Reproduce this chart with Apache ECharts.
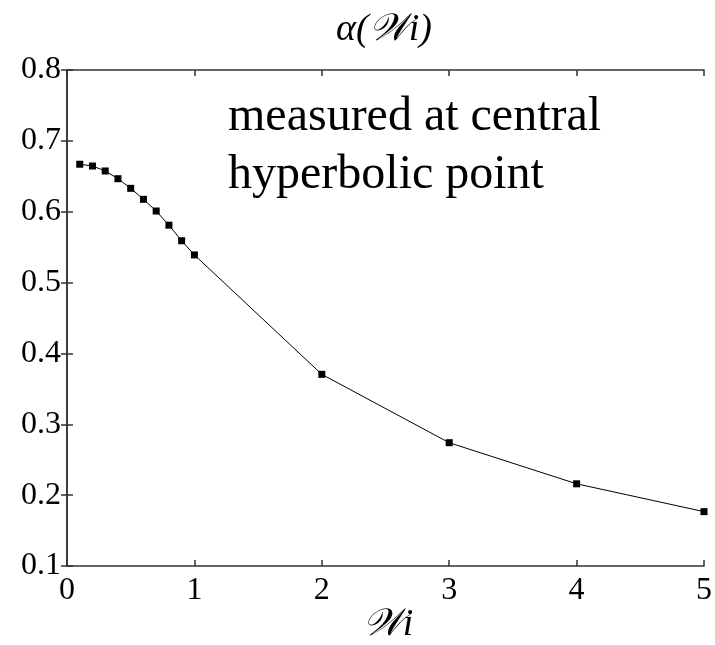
<!DOCTYPE html>
<html>
<head>
<meta charset="utf-8">
<script src="https://cdn.jsdelivr.net/npm/echarts@6/dist/echarts.min.js"></script>
<style>
html,body{margin:0;padding:0;background:#fff;}
#c{width:715px;height:645px;}
</style>
</head>
<body>
<div id="c"></div>
<script>
const xValues = [0.1, 0.2, 0.3, 0.4, 0.5, 0.6, 0.7, 0.8, 0.9, 1.0, 2, 3, 4, 5];
const alphaValues = [0.667, 0.6645, 0.6575, 0.6466, 0.633, 0.6175, 0.601, 0.581, 0.559, 0.539, 0.3705, 0.274, 0.216, 0.1767];
const titleText = 'α(𝒲i)';
const xAxisName = '𝒲i';
const noteLines = ['measured at central', 'hyperbolic point'];

const chart = echarts.init(document.getElementById('c'), null, {renderer: 'canvas'});
const serif = '"Liberation Serif", "DejaVu Serif", serif';
const axisColor = '#333';
const labelStyle = {color: '#000', fontFamily: serif, fontSize: 32};

chart.setOption({
  animation: false,
  backgroundColor: '#fff',
  grid: {left: 67, right: 7, top: 70, bottom: 79, containLabel: false},
  xAxis: [
    {type: 'value', min: 0, max: 5, interval: 1, position: 'bottom',
     axisLine: {show: true, lineStyle: {color: axisColor, width: 1.5}},
     axisTick: {show: true, inside: true, length: 6, lineStyle: {color: axisColor, width: 1.5}},
     axisLabel: Object.assign({margin: 9}, labelStyle),
     splitLine: {show: false}},
    {type: 'value', min: 0, max: 5, interval: 1, position: 'top',
     axisLine: {show: true, lineStyle: {color: axisColor, width: 1.5}},
     axisTick: {show: true, inside: true, length: 6, lineStyle: {color: axisColor, width: 1.5}},
     axisLabel: {show: false}, splitLine: {show: false}}
  ],
  yAxis: [
    {type: 'value', min: 0.1, max: 0.8, interval: 0.1, position: 'left',
     axisLine: {show: true, lineStyle: {color: axisColor, width: 1.5}},
     axisTick: {show: true, inside: true, length: 6, lineStyle: {color: axisColor, width: 1.5}},
     axisLabel: Object.assign({margin: 6, formatter: v => v.toFixed(1)}, labelStyle),
     splitLine: {show: false}},
    {type: 'value', min: 0.1, max: 0.8, interval: 0.1, position: 'right',
     axisLine: {show: true, lineStyle: {color: axisColor, width: 1.5}},
     axisTick: {show: true, inside: true, length: 6, lineStyle: {color: axisColor, width: 1.5}},
     axisLabel: {show: false}, splitLine: {show: false}}
  ],
  series: [{
    type: 'line',
    xAxisIndex: 0, yAxisIndex: 0,
    data: xValues.map((x, i) => [x, alphaValues[i]]),
    symbol: 'rect', symbolSize: 7,
    itemStyle: {color: '#000'},
    lineStyle: {color: '#000', width: 1},
    clip: false
  }],
  graphic: [
    {type: 'text', x: 384, y: 30,
     style: {text: titleText, font: 'italic 38px ' + serif, fill: '#000', align: 'center', verticalAlign: 'middle'}},
    {type: 'text', x: 388, y: 625,
     style: {text: xAxisName, font: 'italic 38px ' + serif, fill: '#000', align: 'center', verticalAlign: 'middle'}},
    {type: 'text', x: 228, y: 117,
     style: {text: noteLines[0], font: '48px ' + serif, fill: '#000', align: 'left', verticalAlign: 'middle'}},
    {type: 'text', x: 228, y: 175,
     style: {text: noteLines[1], font: '48px ' + serif, fill: '#000', align: 'left', verticalAlign: 'middle'}}
  ]
});
</script>
</body>
</html>
